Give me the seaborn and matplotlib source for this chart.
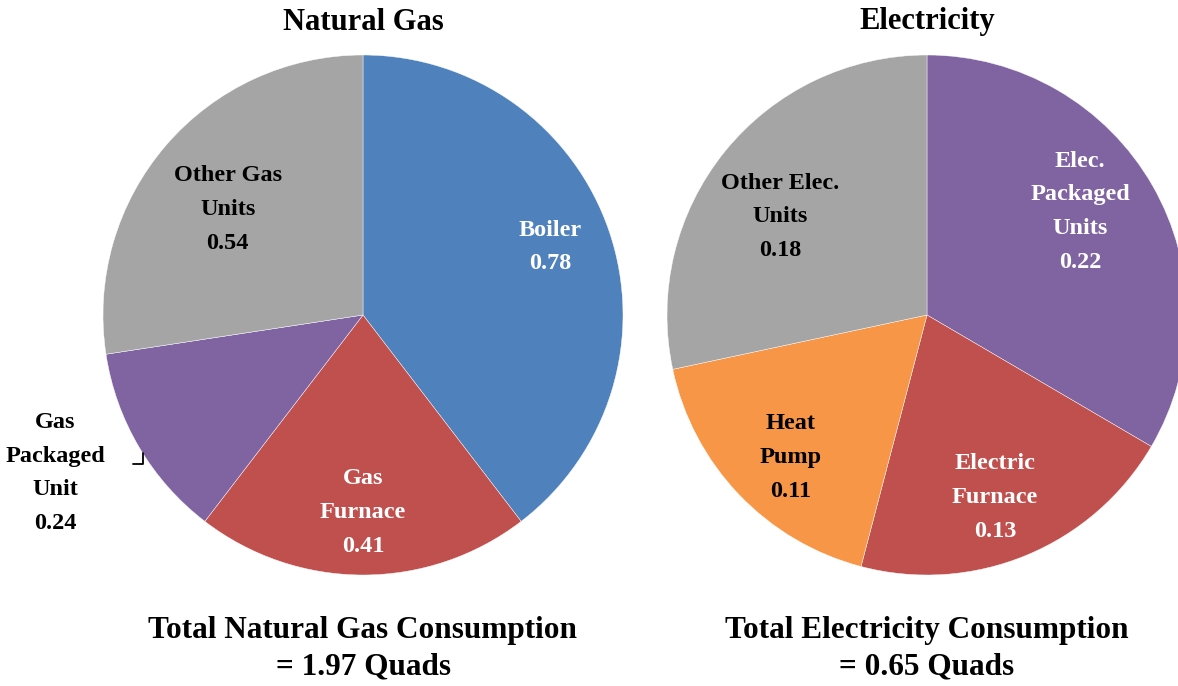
import matplotlib
matplotlib.use("Agg")
import matplotlib.pyplot as plt
import seaborn as sns
import numpy as np

# data
gas_labels = ["Boiler", "Gas\nFurnace", "Gas\nPackaged\nUnit", "Other Gas\nUnits"]
gas_values = [0.78, 0.41, 0.24, 0.54]
gas_colors = ["#4F81BD", "#C0504D", "#8064A2", "#A5A5A5"]
gas_text_colors = ["white", "white", "black", "black"]
gas_label_pos = [(0.765, 20.0), (0.76, -90.0), (1.33, -152.8), (0.66, 142.0)]  # (radius, angle)

elec_labels = ["Elec.\nPackaged\nUnits", "Electric\nFurnace", "Heat\nPump", "Other Elec.\nUnits"]
elec_values = [0.217, 0.134, 0.114, 0.184]
elec_colors = ["#8064A2", "#C0504D", "#F79646", "#A5A5A5"]
elec_text_colors = ["white", "white", "black", "black"]
elec_label_pos = [(0.71, 34.0), (0.75, -69.6), (0.76, -133.8), (0.68, 146.3)]

sns.set_theme(style="white")
plt.rcParams["font.family"] = ["Liberation Serif", "DejaVu Serif"]

fig = plt.figure(figsize=(11.78, 6.86), dpi=100)
W, H = 1178, 686


def draw_pie(cx, title, total_txt, labels, values, colors, tcolors, lpos):
    ax = fig.add_axes([(cx - 260) / W, (H - 575) / H, 520 / W, 520 / H])
    wedges, _ = ax.pie(values, colors=colors, startangle=90, counterclock=False,
                       radius=1, wedgeprops=dict(linewidth=0.3, edgecolor="white"))
    ax.set_xlim(-1, 1)
    ax.set_ylim(-1, 1)
    ax.set_aspect("equal")
    ax.axis("off")
    for lab, v, tc, (r, a) in zip(labels, values, tcolors, lpos):
        x, y = r * np.cos(np.deg2rad(a)), r * np.sin(np.deg2rad(a))
        ax.text(x, y, f"{lab}\n{v:.2f}", ha="center", va="center", color=tc,
                fontsize=17.5, fontweight="bold", linespacing=1.8, clip_on=False)
    fig.text(cx / W, 1 - 22 / H, title, ha="center", va="center", color="black",
             fontsize=22, fontweight="bold")
    fig.text(cx / W, 1 - 649 / H, total_txt, ha="center", va="center", color="black",
             fontsize=22.5, fontweight="bold", linespacing=1.33)
    return ax


ax1 = draw_pie(363, "Natural Gas", "Total Natural Gas Consumption\n= 1.97 Quads",
               gas_labels, gas_values, gas_colors, gas_text_colors, gas_label_pos)
# small leader beside the outside label
r, a = gas_label_pos[2]
lx, ly = r * np.cos(np.deg2rad(a)), r * np.sin(np.deg2rad(a))
ax1.plot([lx + 0.30, lx + 0.335, lx + 0.335], [ly + 0.035, ly + 0.035, ly + 0.077],
         color="black", lw=1.3, clip_on=False)

draw_pie(927, "Electricity", "Total Electricity Consumption\n= 0.65 Quads",
         elec_labels, elec_values, elec_colors, elec_text_colors, elec_label_pos)

fig.savefig("out.png", dpi=100)
